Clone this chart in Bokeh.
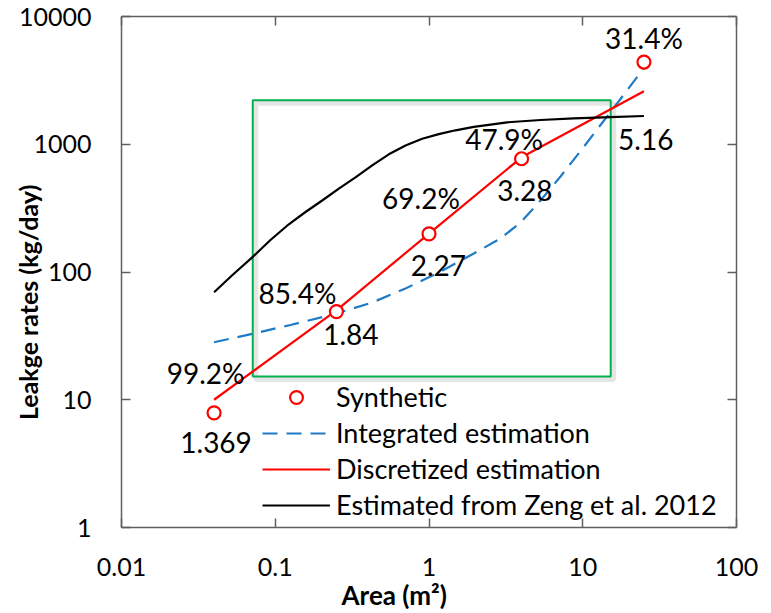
from bokeh.plotting import figure
from bokeh.models import (ColumnDataSource, FixedTicker, LogAxis, Legend, LegendItem)
from bokeh.core.properties import value
from bokeh.embed import file_html
from bokeh.resources import INLINE

# ---------------- data ----------------
synth_area = [0.04, 0.25, 1, 4, 25]
synth_rate = [7.9, 49, 199, 770, 4400]
pct_labels = ["99.2%", "85.4%", "69.2%", "47.9%", "31.4%"]
ratio_labels = ["1.369", "1.84", "2.27", "3.28", "5.16"]

disc_area = [0.04, 0.25, 1, 4, 25]
disc_rate = [10, 50, 200, 790, 2600]

integ_area = [0.04, 0.0708, 0.1257, 0.2465, 0.4271, 0.7034, 1.158, 1.956, 2.918, 3.937,
              5.312, 7.168, 9.668, 13.05, 17.6, 25]
integ_rate = [28.2, 32.8, 38.5, 47.1, 57.7, 74.3, 99.1, 139.6, 182.9, 244, 362.8, 559,
              885, 1415, 2261, 3950]

zeng_area = [0.04, 0.0527, 0.0708, 0.0931, 0.1225, 0.1573, 0.202, 0.2578, 0.3325, 0.4271,
             0.5479, 0.7034, 0.9032, 1.158, 1.487, 1.956, 3.226, 5.312, 8.747, 15.15, 25]
zeng_rate = [69.5, 94.7, 130.1, 178.0, 236.3, 294.9, 362.8, 448.0, 551.2, 684.3, 834.3,
             977.7, 1103, 1201, 1286, 1367, 1485, 1548, 1593, 1631, 1664]

box_area = [0.0714, 15.2]
box_rate = [15.2, 2210]

x_ticks = [0.01, 0.1, 1, 10, 100]
x_tick_labels = ["0.01", "0.1", "1", "10", "100"]
y_ticks = [1, 10, 100, 1000, 10000]
y_tick_labels = ["1", "10", "100", "1000", "10000"]

x_title = "Area (m\u00b2)"
y_title = "Leakge rates (kg/day)"
legend_labels = ["Synthetic", "Integrated estimation", "Discretized estimation",
                 "Estimated from Zeng et al. 2012"]

# ---------------- layout / style ----------------
pct_dx = [-8.5, -39, -8, -17.5, 0]
pct_dy = [-39.7, -18.7, -36.3, -19.7, -24]
num_dx = [2, 14.5, 9.3, 3.3, 1.8]
num_dy = [29.6, 23.3, 31.4, 32, 77.7]

FONT = "Lato"
AXIS_COLOR = "#5f5f5f"
NBSP = "\u00a0"
SHADOW_FX = 10 ** (3 / 153.75)   # ~3 px shift right on the log x axis
SHADOW_FY = 10 ** (3 / 127.75)   # ~3 px shift down on the log y axis

p = figure(width=771, height=613, x_axis_type="log", y_axis_type="log",
           x_range=(x_ticks[0], x_ticks[-1]), y_range=(y_ticks[0], y_ticks[-1]),
           output_backend="svg", toolbar_location=None,
           min_border_left=121, min_border_right=35, min_border_top=16, min_border_bottom=86)
p.grid.visible = False
p.outline_line_color = None
p.background_fill_color = "white"
p.border_fill_color = "white"


def style_axis(ax, ticks, labels, show_labels=True):
    ax.ticker = FixedTicker(ticks=ticks)
    ax.major_label_overrides = {t: l for t, l in zip(ticks, labels)}
    ax.axis_line_color = AXIS_COLOR
    ax.axis_line_width = 1.5
    ax.major_tick_line_color = AXIS_COLOR
    ax.major_tick_line_width = 1.5
    ax.major_tick_in = 9
    ax.major_tick_out = 0
    ax.minor_tick_line_color = None
    ax.major_label_text_font = FONT
    if show_labels:
        ax.major_label_text_color = "black"
        ax.major_label_text_font_size = "25px"
    else:
        ax.major_label_text_color = None
        ax.major_label_text_font_size = "0px"
        ax.major_label_standoff = 0


style_axis(p.xaxis[0], x_ticks, x_tick_labels)
style_axis(p.yaxis[0], y_ticks, y_tick_labels)
p.xaxis[0].major_label_standoff = 30
p.yaxis[0].major_label_standoff = 30

for ax in (p.xaxis[0], p.yaxis[0]):
    ax.axis_label_text_font = FONT
    ax.axis_label_text_font_style = "bold"
    ax.axis_label_text_color = "black"
p.xaxis[0].axis_label_text_font_size = "26px"
p.yaxis[0].axis_label_text_font_size = "25px"
p.xaxis[0].axis_label = x_title + NBSP * 11
p.yaxis[0].axis_label = y_title + NBSP * 10
p.xaxis[0].axis_label_standoff = 0
p.yaxis[0].axis_label_standoff = -27

top_ax = LogAxis()
style_axis(top_ax, x_ticks, x_tick_labels, show_labels=False)
p.add_layout(top_ax, "above")
right_ax = LogAxis()
style_axis(right_ax, y_ticks, y_tick_labels, show_labels=False)
p.add_layout(right_ax, "right")

# green box with a soft shadow
p.quad(left=[box_area[0] * SHADOW_FX], right=[box_area[1] * SHADOW_FX],
       bottom=[box_rate[0] / SHADOW_FY], top=[box_rate[1] / SHADOW_FY],
       fill_color=None, line_color="#cfcfcf", line_width=5, line_alpha=0.55)
p.quad(left=[box_area[0]], right=[box_area[1]], bottom=[box_rate[0]], top=[box_rate[1]],
       fill_color=None, line_color="#00b050", line_width=2)

r_integ = p.line(integ_area, integ_rate, line_color="#1f7bc6", line_width=2.2, line_dash="15 9")
r_disc = p.line(disc_area, disc_rate, line_color="#ff0000", line_width=2.2)
r_zeng = p.line(zeng_area, zeng_rate, line_color="black", line_width=2.2)
r_synth = p.scatter(synth_area, synth_rate, marker="circle", size=13, line_color="#ff0000",
                    line_width=2.2, fill_color="white")

pct_src = ColumnDataSource(dict(x=synth_area, y=synth_rate, t=pct_labels, dx=pct_dx, dy=pct_dy))
num_src = ColumnDataSource(dict(x=synth_area, y=synth_rate, t=ratio_labels, dx=num_dx, dy=num_dy))
for src in (pct_src, num_src):
    p.text("x", "y", text="t", x_offset="dx", y_offset="dy", source=src,
           text_font=value(FONT), text_font_size="28px", text_color="black",
           text_align="center", text_baseline="alphabetic")

legend = Legend(items=[LegendItem(label=legend_labels[0], renderers=[r_synth]),
                       LegendItem(label=legend_labels[1], renderers=[r_integ]),
                       LegendItem(label=legend_labels[2], renderers=[r_disc]),
                       LegendItem(label=legend_labels[3], renderers=[r_zeng])],
                location=(141, 6), orientation="vertical",
                border_line_color=None, background_fill_alpha=0,
                padding=0, margin=0, spacing=3,
                glyph_width=68, glyph_height=32, label_height=32, label_standoff=6,
                label_text_font=FONT, label_text_font_size="27px", label_text_color="black")
p.add_layout(legend, "center")

open("out.html", "w").write(file_html(p, INLINE))
